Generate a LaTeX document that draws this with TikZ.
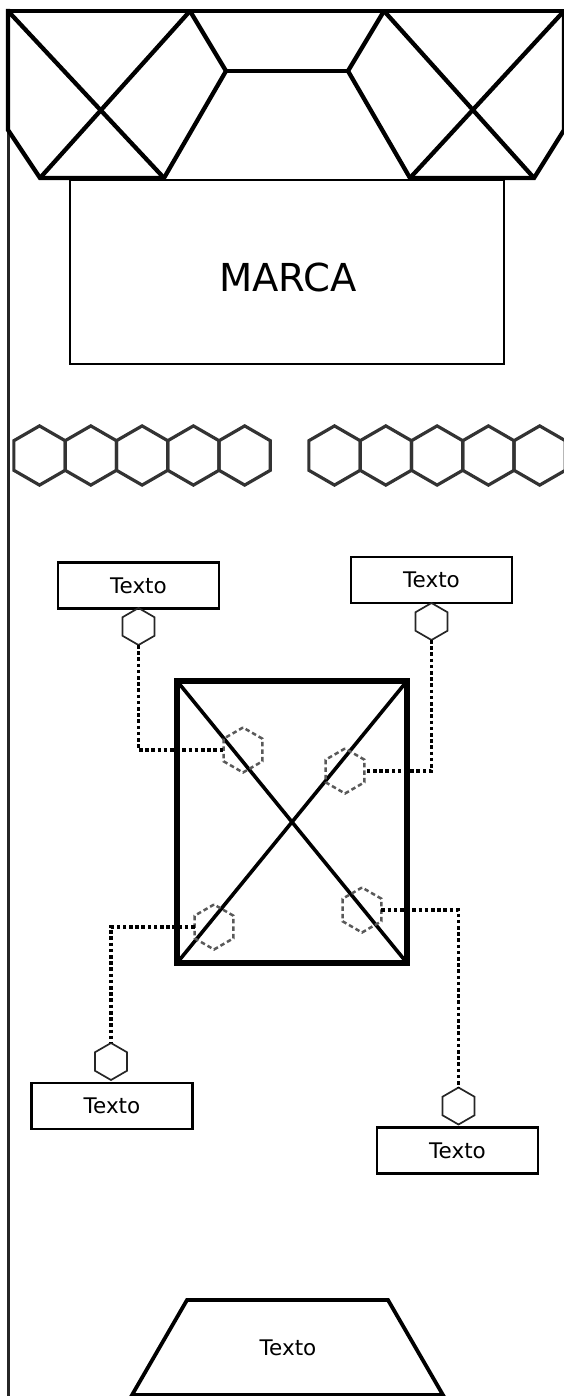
\documentclass[tikz,border=0pt]{standalone}
\usepackage{fontspec}
\setmainfont{DejaVu Sans}
\usetikzlibrary{shapes.geometric}

\begin{document}
\begin{tikzpicture}[x=1pt,y=-1pt,
  heavy/.style={line width=4.3pt, line join=miter, draw=black},
  rowhex/.style={line width=3.2pt, draw=black!80, line join=miter},
  labelbox/.style={draw=black, line width=2.9pt, minimum width=161pt, minimum height=46pt,
                   inner sep=0pt, outer sep=0pt, font=\fontsize{21.5}{23}\selectfont},
  smallhex/.style={regular polygon, regular polygon sides=6, shape border rotate=30,
                   draw=black!85, line width=1.7pt, minimum size=37pt, inner sep=0pt, outer sep=0pt},
  spothex/.style={regular polygon, regular polygon sides=6, shape border rotate=30,
                  draw=black!65, line width=2.5pt, dash pattern=on 4.5pt off 3pt,
                  minimum size=45pt, inner sep=0pt, outer sep=0pt},
  leader/.style={draw=black, line width=3.6pt, dash pattern=on 3.6pt off 2.6pt},
  plain/.style={font=\fontsize{21.5}{23}\selectfont, inner sep=0pt}
]
\useasboundingbox (0,0) rectangle (564,1396);

% left border of the plan
\draw[line width=3.6pt, black!85] (8.5,9.5) -- (8.5,1400);

% roof structure at the top
\draw[heavy] (8,11) -- (566,11);
\draw[heavy] (8,9) -- (8,130) -- (40,178) -- (164,178) -- (226,71) -- (190,11);
\draw[heavy] (226,71) -- (348,71);
\draw[heavy] (384,11) -- (348,71) -- (410,178) -- (534,178) -- (564,130) -- (564,11);
\draw[heavy] (8,11) -- (164,178);
\draw[heavy] (190,11) -- (40,178);
\draw[heavy] (384,11) -- (534,178);
\draw[heavy] (564,11) -- (410,178);

% brand panel
\node[draw=black, line width=2.4pt, minimum width=434pt, minimum height=184pt,
      inner sep=0pt] (marca) at (287,272) {};
\node[font=\fontsize{38.5}{40}\selectfont, inner sep=0pt] (marcatext) at (288,277) {MARCA};

% two rows of hexagons
\foreach \i in {0,...,4} {
  \draw[rowhex] ({39.5+51.3*\i},455.5) +(30:29.6) -- +(90:29.6) -- +(150:29.6)
        -- +(210:29.6) -- +(270:29.6) -- +(330:29.6) -- cycle;
  \draw[rowhex] ({334.5+51.3*\i},455.5) +(30:29.6) -- +(90:29.6) -- +(150:29.6)
        -- +(210:29.6) -- +(270:29.6) -- +(330:29.6) -- cycle;
}

% central frame with diagonals
\node[draw=black, line width=5.5pt, minimum width=230pt, minimum height=282pt,
      inner sep=0pt, outer sep=0pt] (frame) at (292,822) {};
\draw[line width=3.6pt] (frame.north west) -- (frame.south east);
\draw[line width=3.6pt] (frame.north east) -- (frame.south west);

% label boxes
\node[labelbox] (tTL) at (138.5,585.5) {Texto};
\node[labelbox] (tTR) at (431.5,580) {Texto};
\node[labelbox] (tBL) at (112,1106) {Texto};
\node[labelbox] (tBR) at (457.5,1150.5) {Texto};

% small hexagons under/over the labels
\node[smallhex] (hTL) at (138.5,626.5) {};
\node[smallhex] (hTR) at (431.5,621.5) {};
\node[smallhex] (hBL) at (111,1061.5) {};
\node[smallhex] (hBR) at (458.5,1106) {};

% dashed hexagons on the diagonals
\node[spothex] (dA) at (243,750) {};
\node[spothex] (dB) at (345,771) {};
\node[spothex] (dC) at (214,927) {};
\node[spothex] (dD) at (362,910) {};

% dotted leaders
\draw[leader] (hTL.-90) |- (dA.180);
\draw[leader] (hTR.-90) |- (dB.0);
\draw[leader] (dC.180) -| (hBL.90);
\draw[leader] (dD.0) -| (hBR.90);

% stage at the bottom
\draw[line width=3.8pt, line join=miter] (132,1395) -- (187,1300) -- (388,1300) -- (443,1395) -- cycle;
\node[plain] (stage) at (288,1348) {Texto};
\end{tikzpicture}
\end{document}
